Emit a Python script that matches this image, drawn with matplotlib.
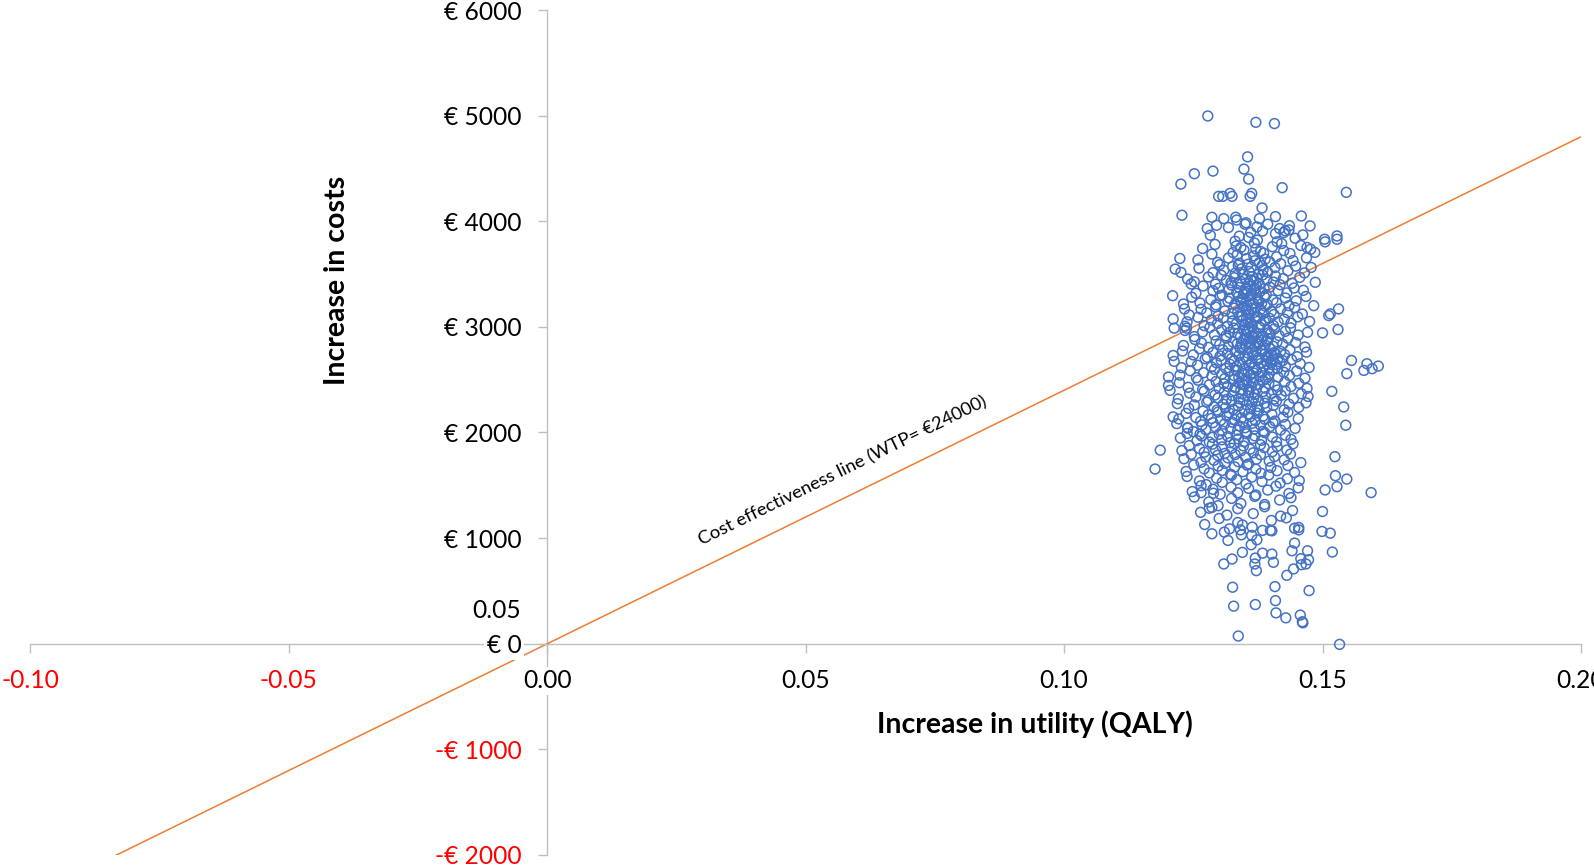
import numpy as np
import matplotlib
matplotlib.use("Agg")
import matplotlib.pyplot as plt

plt.rcParams['font.family'] = ['Lato', 'DejaVu Sans']

# ---- data (QALY in units of 1e-4, cost in EUR) ----
outlier_points = [
    (1278,4997),(1371,4937),(1407,4925),(1355,4610),(1252,4450),(1288,4475),(1348,4494),(1357,4399),
    (1226,4352),(1422,4318),(1546,4274),(1299,4236),(1307,4236),(1321,4264),(1325,4236),(1360,4236),
    (1363,4264),(1228,4057),(1383,4126),(1286,4038),(1309,4025),(1332,4038),(1334,4012),(1378,4025),
    (1409,4044),(1459,4050),(1277,3931),(1295,3962),(1350,3972),(1373,3946),(1394,3972),(1417,3931),
    (1428,3909),(1435,3918),(1425,3893),(1476,3956),(1528,3861),(1504,3830),
    (1210,3295),(1224,3648),(1215,3547),(1226,3516),(1239,3453),(1246,3406),(1231,3217),(1233,3170),
    (1211,3075),(1213,2988),(1234,3006),(1237,2988),(1211,2729),(1213,2673),(1202,2525),(1556,2682),
    (1586,2651),(1596,2604),(1608,2629),(1531,3170),(1512,3107),(1515,3123),(1530,2975),(1500,2943),
    (1486,3422),(1483,3201),(1478,3563),(1485,3705),(1470,3752),(1505,3805),(1528,3830),(1547,2557),
    (1580,2588),
    (1176,1654),(1186,1833),(1211,2148),(1239,2047),(1263,1984),(1202,2446),(1205,2399),(1265,1431),
    (1289,1425),(1281,1283),(1594,1431),(1547,1559),(1528,1487),(1525,1591),(1541,2242),(1545,2069),
    (1518,2390),(1524,1771),(1505,1456),(1500,1252),
    (1310,1057),(1317,978),(1309,755),(1325,802),(1326,535),(1328,356),(1337,73),(1533,-6),
    (1370,371),(1409,408),(1410,292),(1429,245),(1457,271),(1461,208),(1462,198),(1408,541),
    (1474,503),(1519,868),(1431,648),(1444,708),(1459,748),(1468,755),(1473,795),(1458,805),
    (1471,880),(1441,880),(1446,953),(1370,811),(1369,755),(1372,692),(1384,858),(1402,849),
    (1405,771),(1345,865),(1362,937),(1373,984),(1343,1031),(1341,1078),(1345,1125),(1384,1073),
    (1399,1073),(1499,1063),(1515,1047),(1446,1094),(1454,1101),(1454,1078),
]

core_points = [
    (1318,3941),(1352,3986),(1384,3907),(1436,3958),
    (1283,3868),(1331,3811),(1357,3847),(1361,3894),(1374,3822),(1409,3883),(1412,3806),(1447,3839),(1462,3871),(1339,3859),
    (1268,3742),(1292,3781),(1327,3703),(1333,3766),(1348,3728),(1368,3795),(1371,3737),(1380,3714),(1403,3759),(1421,3789),
    (1425,3722),(1458,3771),(1477,3735),(1342,3752),
    (1259,3634),(1286,3689),(1297,3611),(1318,3652),(1335,3684),(1339,3603),(1353,3647),(1367,3672),(1369,3626),(1386,3698),
    (1389,3641),(1398,3615),(1411,3663),(1437,3695),(1443,3628),(1469,3654),(1378,3609),
    (1261,3556),(1288,3513),(1301,3589),(1309,3537),(1326,3571),(1331,3508),(1343,3549),(1356,3593),(1358,3524),(1362,3566),
    (1377,3502),(1383,3579),(1385,3541),(1394,3517),(1408,3562),(1419,3598),(1433,3531),(1448,3575),(1465,3511),(1337,3584),
    (1252,3427),(1279,3472),(1293,3405),(1304,3489),(1314,3441),(1323,3418),(1329,3466),(1341,3432),(1346,3497),(1351,3452),
    (1357,3411),(1364,3476),(1366,3437),(1373,3459),(1378,3402),(1384,3491),(1392,3448),(1405,3424),(1409,3482),(1424,3457),
    (1441,3413),(1456,3469),(1361,3445),(1336,3406),
    (1255,3318),(1269,3387),(1288,3342),(1299,3365),(1306,3301),(1319,3354),(1324,3396),(1334,3327),(1339,3372),(1347,3309),
    (1352,3358),(1355,3339),(1359,3384),(1363,3316),(1368,3348),(1372,3393),(1379,3334),(1387,3362),(1391,3305),(1398,3377),
    (1414,3343),(1418,3399),(1431,3322),(1445,3368),(1463,3346),(1349,3330),(1370,3361),
    (1247,3281),(1263,3226),(1284,3258),(1294,3209),(1302,3294),(1317,3243),(1320,3272),(1331,3217),(1337,3286),(1343,3231),
    (1346,3263),(1354,3204),(1360,3249),(1361,3298),(1366,3222),(1374,3268),(1377,3236),(1388,3283),(1393,3212),(1404,3255),
    (1411,3229),(1428,3274),(1435,3201),(1449,3247),(1468,3288),(1341,3252),(1382,3219),
    (1242,3113),(1265,3167),(1276,3132),(1293,3189),(1298,3104),(1311,3151),(1325,3124),(1328,3178),(1336,3141),(1345,3106),
    (1347,3193),(1352,3158),(1358,3119),(1363,3175),(1368,3137),(1373,3102),(1380,3164),(1386,3128),(1389,3197),(1401,3146),
    (1406,3117),(1419,3171),(1432,3135),(1446,3183),(1461,3122),(1357,3149),(1371,3186),
    (1238,3048),(1259,3091),(1271,3012),(1285,3065),(1297,3033),(1308,3084),(1316,3007),(1326,3056),(1333,3029),(1339,3097),
    (1345,3061),(1349,3018),(1353,3079),(1361,3042),(1364,3003),(1369,3068),(1375,3091),(1381,3025),(1387,3054),(1397,3082),
    (1405,3013),(1414,3047),(1426,3073),(1439,3036),(1452,3095),(1475,3051),(1356,3035),(1390,3069),
    (1234,2966),(1252,2908),(1268,2952),(1282,2994),(1291,2924),(1305,2971),(1313,2915),(1320,2947),(1328,2988),(1336,2936),
    (1341,2903),(1348,2962),(1352,2928),(1358,2984),(1363,2919),(1367,2956),(1372,2941),(1378,2997),(1385,2911),(1393,2969),
    (1399,2934),(1407,2981),(1416,2917),(1428,2958),(1438,2991),(1453,2923),(1471,2949),(1355,2973),(1375,2905),(1396,2945),
    (1231,2824),(1253,2881),(1266,2848),(1279,2806),(1294,2867),(1301,2833),(1314,2894),(1318,2815),(1327,2856),(1335,2839),
    (1340,2801),(1347,2877),(1351,2823),(1357,2862),(1361,2846),(1366,2899),(1370,2812),(1377,2854),(1382,2871),(1389,2829),
    (1395,2888),(1404,2818),(1412,2859),(1423,2836),(1433,2892),(1448,2851),(1466,2809),(1353,2885),(1374,2838),(1392,2866),
    (1343,2845),
    (1229,2771),(1250,2735),(1262,2793),(1277,2712),(1288,2758),(1302,2724),(1307,2783),(1316,2747),(1324,2701),(1331,2766),
    (1338,2729),(1345,2789),(1350,2716),(1356,2752),(1359,2798),(1365,2733),(1371,2764),(1376,2709),(1381,2779),(1388,2741),
    (1393,2722),(1398,2795),(1406,2756),(1414,2703),(1419,2768),(1427,2737),(1437,2784),(1451,2718),(1469,2761),(1401,2731),
    (1409,2749),(1384,2772),(1396,2706),
    (1227,2614),(1246,2672),(1258,2637),(1273,2698),(1285,2621),(1295,2659),(1304,2683),(1313,2608),(1321,2646),(1329,2679),
    (1334,2624),(1341,2662),(1347,2601),(1353,2694),(1358,2639),(1363,2667),(1368,2618),(1374,2685),(1380,2652),(1386,2629),
    (1391,2676),(1397,2611),(1404,2697),(1410,2644),(1418,2668),(1428,2626),(1440,2689),(1457,2651),(1474,2616),(1400,2661),
    (1413,2604),(1423,2681),(1393,2648),
    (1224,2543),(1244,2585),(1256,2519),(1270,2566),(1286,2536),(1291,2597),(1305,2552),(1311,2511),(1319,2578),(1329,2538),
    (1333,2592),(1338,2523),(1344,2561),(1351,2503),(1356,2574),(1361,2547),(1366,2516),(1372,2589),(1378,2531),(1383,2568),
    (1390,2508),(1397,2555),(1403,2594),(1414,2525),(1425,2571),(1436,2539),(1450,2582),(1466,2514),(1349,2548),(1367,2563),
    (1394,2529),
    (1223,2471),(1240,2428),(1259,2495),(1268,2409),(1281,2452),(1294,2483),(1300,2417),(1309,2461),(1316,2437),(1327,2499),
    (1331,2425),(1339,2468),(1342,2405),(1349,2448),(1354,2487),(1362,2433),(1365,2474),(1372,2412),(1376,2456),(1385,2494),
    (1389,2421),(1396,2463),(1408,2441),(1413,2402),(1427,2479),(1439,2435),(1454,2466),(1470,2418),(1345,2458),(1357,2406),
    (1221,2318),(1243,2373),(1255,2336),(1271,2391),(1279,2304),(1292,2355),(1298,2327),(1310,2384),(1314,2312),(1325,2349),
    (1329,2396),(1338,2321),(1345,2365),(1347,2306),(1356,2343),(1358,2381),(1367,2329),(1369,2361),(1376,2302),(1385,2388),
    (1390,2338),(1401,2369),(1406,2315),(1420,2352),(1428,2393),(1444,2324),(1459,2367),(1472,2341),
    (1219,2273),(1241,2229),(1252,2261),(1269,2204),(1276,2287),(1290,2242),(1296,2213),(1308,2268),(1312,2233),(1324,2295),
    (1327,2219),(1337,2251),(1340,2283),(1349,2207),(1353,2262),(1361,2225),(1364,2291),(1374,2246),(1377,2211),(1388,2277),
    (1392,2236),(1405,2256),(1411,2298),(1426,2216),(1435,2269),(1454,2238),(1468,2281),
    (1222,2128),(1236,2181),(1255,2142),(1264,2105),(1279,2167),(1285,2133),(1298,2194),(1303,2116),(1315,2156),(1319,2187),
    (1330,2121),(1333,2163),(1343,2138),(1346,2102),(1357,2176),(1360,2149),(1370,2113),(1373,2185),(1385,2154),(1389,2124),
    (1402,2171),(1408,2108),(1424,2146),(1433,2192),(1453,2131),
    (1218,2084),(1239,2041),(1250,2009),(1267,2072),(1274,2027),(1288,2093),(1293,2051),(1306,2014),(1310,2079),(1322,2036),
    (1325,2098),(1336,2021),(1339,2063),(1350,2045),(1353,2006),(1364,2087),(1368,2032),(1380,2069),(1385,2011),(1398,2055),
    (1404,2092),(1419,2024),(1428,2076),(1447,2039),
    (1225,1948),(1238,1991),(1257,1923),(1266,1967),(1281,1909),(1287,1954),(1300,1983),(1305,1931),(1317,1962),(1321,1904),
    (1333,1976),(1337,1939),(1349,1915),(1353,1988),(1365,1943),(1369,1968),(1382,1926),(1388,1999),(1403,1957),(1411,1912),
    (1428,1974),(1439,1935),
    (1228,1829),(1242,1876),(1262,1848),(1271,1813),(1287,1889),(1293,1836),(1306,1864),(1311,1802),(1324,1851),(1329,1897),
    (1342,1826),(1347,1873),(1360,1842),(1366,1808),(1380,1885),(1387,1857),(1403,1819),(1412,1868),(1431,1834),(1443,1893),
    (1232,1751),(1246,1793),(1265,1718),(1274,1768),(1290,1737),(1297,1784),(1311,1709),(1317,1759),(1331,1791),(1337,1724),
    (1351,1766),(1357,1703),(1372,1747),(1380,1789),(1397,1729),(1407,1772),(1426,1741),(1438,1796),(1458,1715),
    (1236,1631),(1251,1693),(1271,1656),(1281,1617),(1298,1682),(1306,1641),(1322,1605),(1330,1674),(1346,1629),(1354,1691),
    (1371,1652),(1381,1614),(1400,1669),(1412,1638),(1433,1687),(1446,1621),
    (1238,1584),(1262,1541),(1275,1506),(1295,1567),(1306,1528),(1324,1594),(1334,1553),(1352,1513),(1363,1577),(1383,1536),
    (1396,1598),(1418,1521),(1432,1562),(1455,1545),
    (1248,1441),(1265,1496),(1288,1462),(1302,1415),(1323,1483),(1336,1429),(1357,1471),(1371,1408),(1394,1455),(1410,1492),
    (1435,1423),(1453,1476),
    (1252,1389),(1280,1342),(1298,1307),(1324,1376),(1342,1328),(1369,1395),(1388,1318),(1417,1361),(1439,1383),
    (1264,1244),(1286,1291),(1315,1218),(1336,1279),(1366,1232),(1388,1297),(1419,1208),(1442,1261),
    (1272,1129),(1300,1186),(1336,1148),(1364,1104),(1401,1167),(1430,1192),
    (1286,1041),(1320,1088),(1363,1026),(1402,1069),
]

wtp = 24000
line_q = [-0.10, 0.20]

x_ticks = [-0.10, -0.05, 0.00, 0.05, 0.10, 0.15, 0.20]
y_ticks = [-2000, -1000, 0, 1000, 2000, 3000, 4000, 5000, 6000]

pts = np.array(outlier_points + core_points, dtype=float)
qaly = pts[:, 0] / 10000.0
cost = pts[:, 1]

# ---- figure ----
fig = plt.figure(figsize=(15.94, 8.65), dpi=100)
ax = fig.add_axes([0.0191, 0.0116, 0.9727, 0.9768])
ax.set_xlim(-0.10, 0.20)
ax.set_ylim(-2000, 6000)

lq = np.array(line_q)
ax.plot(lq, wtp * lq, color='#ED7D31', lw=1.1, zorder=2, solid_capstyle='butt')

ax.scatter(qaly, cost, s=50, facecolors='none', edgecolors='#4472C4',
           linewidths=1.1, zorder=3)

for side in ['top', 'right']:
    ax.spines[side].set_visible(False)
for side in ['left', 'bottom']:
    ax.spines[side].set_position(('data', 0))
    ax.spines[side].set_color('#BFBFBF')
    ax.spines[side].set_linewidth(1.0)
    ax.spines[side].set_zorder(1)

ax.set_xticks(x_ticks)
ax.set_yticks(y_ticks)
ax.set_xticklabels([f"{v:.2f}" for v in x_ticks])
ax.set_yticklabels([("-€ %d" % abs(v)) if v < 0 else ("€ %d" % v) for v in y_ticks])
ax.tick_params(axis='both', direction='out', length=6.5, width=1.0, color='#BFBFBF',
               labelsize=17.7, pad=12)

for lab, v in zip(ax.get_xticklabels(), x_ticks):
    lab.set_color('#FF0000' if v < 0 else 'black')
    lab.set_bbox(dict(facecolor='white', edgecolor='none', pad=2))
for lab, v in zip(ax.get_yticklabels(), y_ticks):
    lab.set_color('#FF0000' if v < 0 else 'black')
    lab.set_bbox(dict(facecolor='white', edgecolor='none', pad=2))
ax.xaxis.set_zorder(4)
ax.yaxis.set_zorder(4)

# stray label in the original
ax.text(-0.0051, 317, "0.05", fontsize=17.7, ha='right', va='center', color='black')

# axis titles placed like the original
ax.text(0.0943, -762, "Increase in utility (QALY)", fontsize=20.5, fontweight='bold',
        ha='center', va='center')
ax.text(-0.0406, 3442, "Increase in costs", fontsize=20.5, fontweight='bold',
        ha='center', va='center', rotation=90)

ax.text(0.0572, 1634, "Cost effectiveness line (WTP= €24000)", fontsize=13.3,
        ha='center', va='center', rotation=26.1, rotation_mode='anchor')

fig.savefig("out.png", dpi=100)
